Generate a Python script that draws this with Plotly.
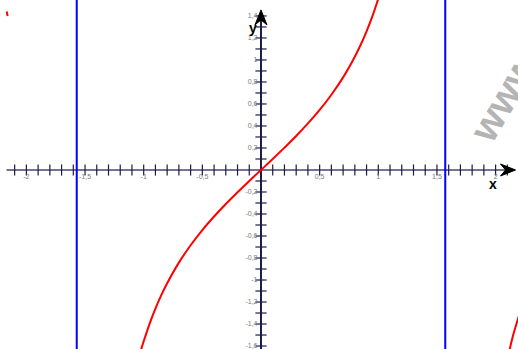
import plotly.graph_objects as go

# y = tan(x): sampled points of the central branch
x_main = [-1.03, -1.0, -0.95, -0.9, -0.85, -0.8, -0.7, -0.6, -0.5, -0.4, -0.3, -0.2, -0.1, 0.0,
          0.1, 0.2, 0.3, 0.4, 0.5, 0.6, 0.7, 0.8, 0.85, 0.9, 0.95, 1.0, 1.03]
y_main = [-1.66, -1.557, -1.398, -1.260, -1.138, -1.030, -0.842, -0.684, -0.546, -0.423, -0.309, -0.203, -0.100, 0.0,
          0.100, 0.203, 0.309, 0.423, 0.546, 0.684, 0.842, 1.030, 1.138, 1.260, 1.398, 1.557, 1.66]

# neighbouring branches near the edges
x_right = [2.09, 2.12, 2.15, 2.18, 2.21]
y_right = [-1.77, -1.63, -1.50, -1.39, -1.29]
x_left = [-2.168, -2.160]
y_left = [1.44, 1.40]

# vertical asymptotes x = ±pi/2
asymptotes = [-1.5708, 1.5708]

# axis ticks and labels
x_ticks = [round(-2.1 + 0.1 * i, 1) for i in range(43) if round(-2.1 + 0.1 * i, 1) != 0]
y_ticks = [round(-1.6 + 0.1 * i, 1) for i in range(31) if round(-1.6 + 0.1 * i, 1) != 0]
x_label_vals = [-2, -1.5, -1, -0.5, 0.5, 1, 1.5, 2]
x_label_text = ["-2", "-1,5", "-1", "-0,5", "0,5", "1", "1,5", "2"]
y_label_vals = [1.4, 1.2, 1.0, 0.8, 0.6, 0.4, 0.2, -0.2, -0.4, -0.6, -0.8, -1.0, -1.2, -1.4, -1.6]
y_label_text = ["1,4", "1,2", "1", "0,8", "0,6", "0,4", "0,2", "-0,2", "-0,4", "-0,6", "-0,8", "-1", "-1,2", "-1,4", "-1,6"]

XMIN, XMAX = -2.225, 2.191
YMIN, YMAX = -1.627, 1.545
NAVY = "#1c1c44"

fig = go.Figure()

# axes lines
fig.add_trace(go.Scatter(x=[-2.17, 2.12], y=[0, 0], mode="lines",
                         line=dict(color="#75758f", width=2), hoverinfo="skip"))
fig.add_trace(go.Scatter(x=[0, 0], y=[YMIN, 1.40], mode="lines",
                         line=dict(color=NAVY, width=2), hoverinfo="skip"))

# tick marks
fig.add_trace(go.Scatter(x=x_ticks, y=[0] * len(x_ticks), mode="markers",
                         marker=dict(symbol="line-ns", size=8, line=dict(color=NAVY, width=1.2)),
                         hoverinfo="skip"))
fig.add_trace(go.Scatter(x=[0] * len(y_ticks), y=y_ticks, mode="markers",
                         marker=dict(symbol="line-ew", size=8, line=dict(color=NAVY, width=1.2)),
                         hoverinfo="skip"))

# tick labels
fig.add_trace(go.Scatter(x=x_label_vals, y=[-0.065] * len(x_label_vals), mode="text",
                         text=x_label_text, textposition="middle center",
                         textfont=dict(size=7, color="#7a7a7a", family="Liberation Sans"),
                         hoverinfo="skip"))
fig.add_trace(go.Scatter(x=[-0.03] * len(y_label_vals), y=y_label_vals, mode="text",
                         text=y_label_text, textposition="middle left",
                         textfont=dict(size=7, color="#7a7a7a", family="Liberation Sans"),
                         hoverinfo="skip"))

# asymptotes
for a in asymptotes:
    fig.add_trace(go.Scatter(x=[a, a], y=[YMIN - 0.1, YMAX + 0.1], mode="lines",
                             line=dict(color="#0000ff", width=2), hoverinfo="skip"))

# tangent curve branches
for xs, ys in [(x_main, y_main), (x_right, y_right), (x_left, y_left)]:
    fig.add_trace(go.Scatter(x=xs, y=ys, mode="lines", line=dict(color="#ff0000", width=2, shape="spline"),
                             hoverinfo="skip"))

# arrow heads
dx, dy = 1 / 117.3, 1 / 110.0
tip_x = 2.17
tip_y = 1.455
fig.add_shape(type="path",
              path=f"M {tip_x},0 L {tip_x - 15*dx},{6*dy} L {tip_x - 10*dx},0 L {tip_x - 15*dx},{-6*dy} Z",
              fillcolor="black", line=dict(color="black", width=1))
fig.add_shape(type="path",
              path=f"M 0,{tip_y} L {6*dx},{tip_y - 15*dy} L 0,{tip_y - 10*dy} L {-6*dx},{tip_y - 15*dy} Z",
              fillcolor="black", line=dict(color="black", width=1))

# axis names
fig.add_annotation(x=1.975, y=-0.125, text="<b>x</b>", showarrow=False,
                   font=dict(size=14, color="black", family="Liberation Sans"))
fig.add_annotation(x=-0.065, y=1.29, text="<b>y</b>", showarrow=False,
                   font=dict(size=14, color="black", family="Liberation Sans"))

# watermark
fig.add_annotation(xref="paper", yref="paper", x=503 / 518, y=1 - 98 / 349,
                   xanchor="center", yanchor="middle", text="<b>www</b>",
                   showarrow=False, textangle=-60,
                   font=dict(size=40, color="#b4b4b4", family="Liberation Sans"))

fig.update_layout(
    width=518, height=349, margin=dict(l=0, r=0, t=0, b=0),
    paper_bgcolor="white", plot_bgcolor="white", showlegend=False,
    xaxis=dict(range=[XMIN, XMAX], visible=False, fixedrange=True),
    yaxis=dict(range=[YMIN, YMAX], visible=False, fixedrange=True),
)

fig.write_html("out.html")
